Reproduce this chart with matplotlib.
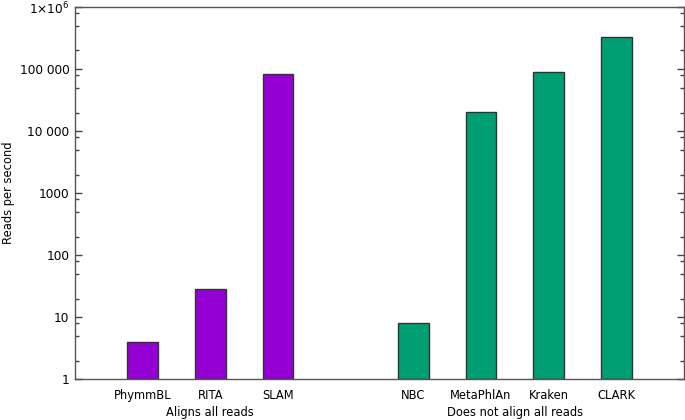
import matplotlib
matplotlib.use("Agg")
import matplotlib.pyplot as plt
import numpy as np
from matplotlib.ticker import FixedLocator, FixedFormatter, NullFormatter

# Données
outils_align = ["PhymmBL", "RITA", "SLAM"]
vitesse_align = [4.0, 28.5, 83000]
outils_non_align = ["NBC", "MetaPhlAn", "Kraken", "CLARK"]
vitesse_non_align = [8.0, 20300, 89600, 328000]

groupes = ["Aligns all reads", "Does not align all reads"]
yticks = [1, 10, 100, 1000, 1e4, 1e5, 1e6]
ytick_labels = ["1", "10", "100", "1000", "10 000", "100 000", r"1$\times$10$^{6}$"]

pos_align = np.arange(1, len(outils_align) + 1)
pos_non_align = np.arange(1, len(outils_non_align) + 1) + len(outils_align) + 1

fig = plt.figure(figsize=(6.85, 4.2), dpi=100)
ax = fig.add_axes([0.1095, 0.097, 0.889, 0.886])

largeur = 0.45
ax.bar(pos_align, np.array(vitesse_align) - 1, width=largeur, bottom=1,
       color="#9400D3", edgecolor="#333333", linewidth=1.0)
ax.bar(pos_non_align, np.array(vitesse_non_align) - 1, width=largeur, bottom=1,
       color="#009E73", edgecolor="#333333", linewidth=1.0)

ax.set_yscale("log")
ax.set_ylim(1, 1e6)
ax.set_xlim(0, 9)

ax.yaxis.set_major_locator(FixedLocator(yticks))
ax.yaxis.set_major_formatter(FixedFormatter(ytick_labels))
mineurs = [m * 10 ** e for e in range(0, 6) for m in (2, 5, 8)]
ax.yaxis.set_minor_locator(FixedLocator(mineurs))
ax.yaxis.set_minor_formatter(NullFormatter())
ax.tick_params(axis="y", which="both", direction="in", left=True, right=True,
               color="#444444", labelsize=8.7, pad=4)
ax.tick_params(axis="y", which="major", length=5, width=1)
ax.tick_params(axis="y", which="minor", length=3, width=1)

positions = list(pos_align) + list(pos_non_align)
ax.set_xticks(positions)
ax.set_xticklabels(outils_align + outils_non_align, fontsize=8.3)
ax.tick_params(axis="x", length=0, pad=7)

for s in ax.spines.values():
    s.set_color("#555555")
    s.set_linewidth(1.0)

ax.set_ylabel("Reads per second", fontsize=8.3)
ax.yaxis.set_label_coords(-0.0985, 0.5)

# étiquettes des groupes
ax.text(pos_align.mean(), -0.073, groupes[0], transform=ax.get_xaxis_transform(),
        ha="center", va="top", fontsize=8.3)
ax.text(pos_non_align.mean(), -0.073, groupes[1], transform=ax.get_xaxis_transform(),
        ha="center", va="top", fontsize=8.3)

fig.savefig("out.png", dpi=100)
plt.close(fig)
